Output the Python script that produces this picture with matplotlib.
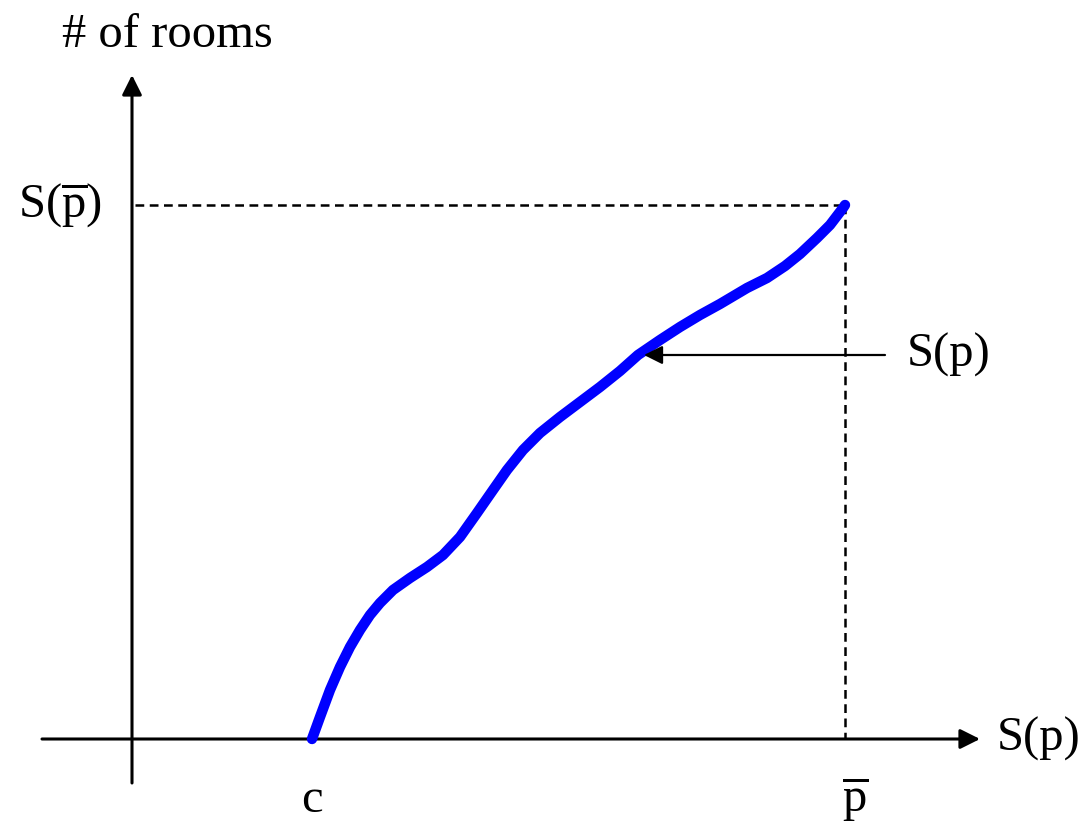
import matplotlib
matplotlib.use("Agg")
import matplotlib.pyplot as plt

plt.rcParams["font.family"] = ["Liberation Serif", "DejaVu Serif"]
plt.rcParams["mathtext.fontset"] = "custom"
plt.rcParams["mathtext.rm"] = "Liberation Serif"
plt.rcParams["mathtext.it"] = "Liberation Serif:italic"

# Supply curve S(p): price (x) vs number of rooms (y)
price = [18.0, 18.8, 19.8, 20.8, 21.8, 22.8, 23.8, 24.8, 26.1, 27.8,
         29.5, 31.1, 32.8, 34.5, 36.1, 37.5, 39.1, 40.8, 42.8, 44.8,
         46.8, 48.8, 50.6, 52.8, 54.8, 56.8, 58.8, 61.5, 63.5, 65.3,
         66.8, 68.5, 69.8, 71.1, 71.3]
rooms = [0.0, 2.2, 4.9, 7.2, 9.2, 10.9, 12.4, 13.6, 14.9, 16.1,
         17.2, 18.4, 20.2, 22.6, 24.9, 26.9, 28.9, 30.6, 32.2, 33.7,
         35.2, 36.8, 38.4, 39.9, 41.2, 42.4, 43.5, 45.1, 46.1, 47.3,
         48.5, 50.1, 51.4, 53.1, 53.4]

c_price = price[0]
p_bar = price[-1]
s_p_bar = rooms[-1]

fig = plt.figure(figsize=(10.89, 8.23), dpi=100)
ax = fig.add_axes([0, 0, 1, 1])
ax.set_xlim(-13.2, 95.7)
ax.set_ylim(-8.4, 73.9)
ax.axis("off")

# coordinate axes with arrow heads
ax.annotate("", xy=(84.8, 0), xytext=(-9.0, 0),
            arrowprops=dict(arrowstyle="-|>", color="black", lw=2.2,
                            mutation_scale=30, shrinkA=0, shrinkB=0))
ax.annotate("", xy=(0, 66.4), xytext=(0, -4.4),
            arrowprops=dict(arrowstyle="-|>", color="black", lw=2.2,
                            mutation_scale=30, shrinkA=0, shrinkB=0))

# dashed guides to S(p-bar)
ax.plot([0.3, p_bar], [s_p_bar, s_p_bar], color="black", lw=1.8,
        dashes=(3.5, 2.2))
ax.plot([p_bar, p_bar], [s_p_bar, 0], color="black", lw=1.8,
        dashes=(3.5, 2.2))

# supply curve
ax.plot(price, rooms, color="#0000ff", lw=7.5, solid_capstyle="round",
        solid_joinstyle="round", zorder=5)

# pointer to the curve
ax.annotate("", xy=(51.2, 38.4), xytext=(75.3, 38.4),
            arrowprops=dict(arrowstyle="-|>", color="black", lw=1.6,
                            mutation_scale=28, shrinkA=0, shrinkB=0),
            zorder=6)

fs = 35
ax.text(3.5, 70.4, "# of rooms", fontsize=fs, ha="center", va="center")
ax.text(-7.2, s_p_bar, r"$\mathrm{S(\overline{p})}$", fontsize=fs,
        ha="center", va="center")
ax.text(86.5, 0, "S(p)", fontsize=fs, ha="left", va="center")
ax.text(77.5, 38.4, "S(p)", fontsize=fs, ha="left", va="center")
ax.text(c_price, -6.1, "c", fontsize=fs, ha="center", va="center")
ax.text(p_bar + 1.0, -6.0, r"$\mathrm{\overline{p}}$", fontsize=fs,
        ha="center", va="center")

fig.savefig("out.png", dpi=100, facecolor="white")
